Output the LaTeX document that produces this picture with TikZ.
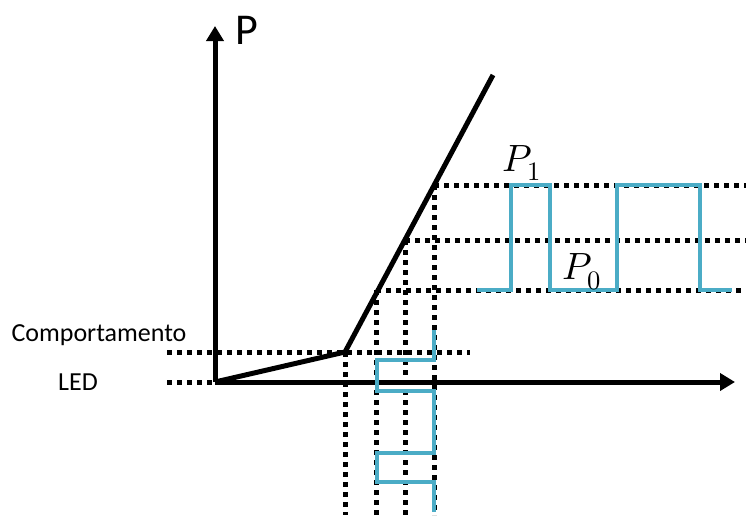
\documentclass[tikz,border=0pt]{standalone}
\usepackage{fontspec}
\usepackage{unicode-math}
\setmainfont{Carlito}
\setmathfont{Latin Modern Math}
\usetikzlibrary{arrows.meta}
\definecolor{wave}{HTML}{4BACC6}

\begin{document}
\begin{tikzpicture}[x=1pt, y=-1pt,
    axis/.style={line width=5pt, -{Triangle[length=15pt,width=17pt]}},
    curve/.style={line width=5pt, line join=round},
    guide/.style={line width=5pt, dash pattern=on 5pt off 5pt},
    signal/.style={wave, line width=4.5pt}]
  \useasboundingbox (0,0) rectangle (752,515);

  % --- points of the characteristic ---
  \coordinate (O) at (215,382);
  \coordinate (knee) at (345,352);
  \coordinate (top) at (493,75);
  \coordinate (c0) at (376,290);
  \coordinate (cm) at (405,240);
  \coordinate (c1) at (434,185);
  \coordinate (ptip) at (215,26);
  \coordinate (itip) at (735,382);

  % --- dotted guides ---
  \draw[guide] (c1) -- (746,185);
  \draw[guide] (cm) -- (746,240);
  \draw[guide] (c0) -- (742,290);
  \draw[guide] (167,352) -- (470,352);
  \draw[guide] (167,382) -- (O);
  \draw[guide] (knee) -- (knee |- 0,515);
  \draw[guide] (c0) -- (c0 |- 0,515);
  \draw[guide] (cm) -- (cm |- 0,515);
  \draw[guide] (c1) -- (c1 |- 0,515);

  % --- axes and LED curve ---
  \draw[axis] (O) -- (ptip);
  \draw[axis] (O) -- (itip);
  \draw[curve] (O) -- (knee) -- (top);

  % --- modulated optical power ---
  \draw[signal] (477,290) -- (511,290) -- (511,185) -- (550,185) -- (550,290)
    -- (617,290) -- (617,185) -- (700,185) -- (700,290) -- (732,290);

  % --- drive current ---
  \draw[signal] (434,330) -- (434,360) -- (377,360) -- (377,391) -- (434,391)
    -- (434,453) -- (377,453) -- (377,482) -- (434,482) -- (434,512);

  % --- labels ---
  \node (plabel) at (247,30) {\fontsize{44}{48}\selectfont P};
  \node (p1) at (522,163) {\fontsize{38}{44}\selectfont $P_1$};
  \node (p0) at (582,272) {\fontsize{38}{44}\selectfont $P_0$};
  \node (comp) at (99,335) {\fontsize{26}{30}\selectfont Comportamento};
  \node (led) at (78,382) {\fontsize{26}{30}\selectfont LED};
\end{tikzpicture}
\end{document}
